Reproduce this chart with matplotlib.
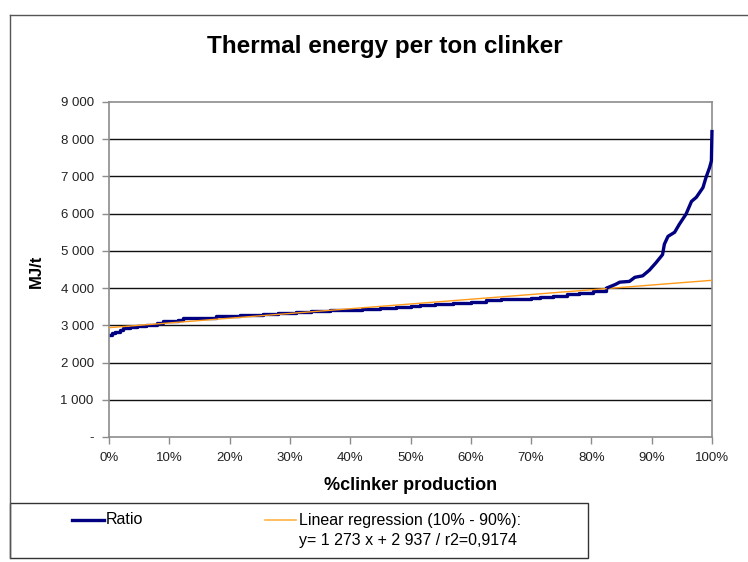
import matplotlib
matplotlib.use("Agg")
import matplotlib.pyplot as plt
from matplotlib.lines import Line2D
from matplotlib.patches import Rectangle
from matplotlib.ticker import FuncFormatter

plt.rcParams['font.family'] = ['Liberation Sans', 'DejaVu Sans']

# Ranked plants: cumulative % of clinker production vs thermal energy (MJ/t)
pct = [0, 0.5, 1, 1.8, 2.4, 3.5, 4.6, 6.2, 7.9, 9.0, 11.5, 12.3, 15.6, 17.8, 20, 21.7,
       23.5, 25.6, 28, 31, 33.5, 36.6, 39, 42, 45, 47.6, 50, 51.5, 54, 57, 60, 62.6,
       65, 68, 70, 71.4, 73.6, 76, 78, 80.3, 82.5, 84, 84.7, 86.3, 87.2, 88.5, 89.6,
       90.7, 91.8, 92.1, 92.7, 93.8, 94.6, 95.7, 96.6, 97.4, 98.5, 99.0, 99.6, 99.9, 100]
ratio = [2740, 2790, 2830, 2870, 2940, 2950, 2970, 3020, 3050, 3120, 3150, 3190, 3210,
         3240, 3250, 3270, 3285, 3305, 3330, 3360, 3380, 3410, 3420, 3440, 3460, 3490,
         3520, 3540, 3570, 3600, 3640, 3670, 3700, 3720, 3740, 3770, 3800, 3840, 3880,
         3920, 4000, 4100, 4160, 4180, 4290, 4330, 4480, 4680, 4900, 5180, 5390, 5500,
         5720, 5990, 6330, 6440, 6700, 6970, 7240, 7420, 8250]

reg_x = [0, 100]
reg_slope = 1273
reg_intercept = 2937
reg_y = [reg_intercept + reg_slope * x / 100 for x in reg_x]

yticks = [0, 1000, 2000, 3000, 4000, 5000, 6000, 7000, 8000, 9000]
xticks = [0, 10, 20, 30, 40, 50, 60, 70, 80, 90, 100]

W, H = 748, 562
fig = plt.figure(figsize=(W / 100, H / 100), dpi=100)

def fx(px):
    return px / W

def fy(py):
    return 1 - py / H

ax = fig.add_axes([fx(109), fy(437), fx(712) - fx(109), fy(102) - fy(437)])

ax.plot(reg_x, reg_y, color='#FF9A1A', lw=1.0, zorder=3)
split = 40  # flat part drawn as a staircase, steep tail as a jagged line
ax.plot(pct[:split + 1], ratio[:split + 1], color='#000080', lw=2.4,
        drawstyle='steps-post', zorder=2)
ax.plot(pct[split:], ratio[split:], color='#000080', lw=2.4, zorder=4,
        clip_on=False, solid_capstyle='butt')

ax.set_xlim(0, 100)
ax.set_ylim(0, 9000)
ax.set_yticks(yticks)
ax.set_xticks(xticks)
ax.yaxis.set_major_formatter(FuncFormatter(
    lambda v, p: '-' if v == 0 else f"{int(v):,}".replace(',', ' ')))
ax.xaxis.set_major_formatter(FuncFormatter(lambda v, p: f"{int(v)}%"))

for v in yticks[1:-1]:
    ax.axhline(v, color='#111111', lw=1.0, zorder=1)

for s in ax.spines.values():
    s.set_color('#8c8c8c')
    s.set_linewidth(1.2)

ax.tick_params(axis='both', direction='out', length=5, width=1, color='#8c8c8c',
               labelsize=9.5, labelcolor='#222222')
ax.tick_params(axis='y', pad=6)
ax.tick_params(axis='x', pad=6)

fig.text(fx(385), fy(47), 'Thermal energy per ton clinker', ha='center', va='center',
         fontsize=17.5, fontweight='bold', color='#000000')
fig.text(fx(411), fy(486), '%clinker production', ha='center', va='center',
         fontsize=13, fontweight='bold', color='#000000')
fig.text(fx(36), fy(271), 'MJ/t', ha='center', va='center', rotation=90,
         fontsize=12, fontweight='bold', color='#000000')

# outer chart frame (left and top edges visible)
fig.add_artist(Line2D([fx(10), fx(10)], [fy(15), fy(558)], color='#555555', lw=1.0))
fig.add_artist(Line2D([fx(10), fx(748)], [fy(15), fy(15)], color='#555555', lw=1.0))

# legend box
fig.add_artist(Rectangle((fx(10), fy(558)), fx(588) - fx(10), fy(503) - fy(558),
                         fill=False, edgecolor='#333333', lw=1.0))
fig.add_artist(Line2D([fx(72), fx(104)], [fy(520), fy(520)], color='#000080', lw=2.4))
fig.text(fx(106), fy(520), 'Ratio', ha='left', va='center', fontsize=11.5)
fig.add_artist(Line2D([fx(265), fx(296)], [fy(520), fy(520)], color='#FFB347', lw=1.2))
fig.text(fx(299), fy(520), 'Linear regression (10% - 90%):', ha='left', va='center',
         fontsize=11.5)
fig.text(fx(299), fy(541), 'y= 1 273 x + 2 937 / r2=0,9174', ha='left', va='center',
         fontsize=11.5)

fig.savefig('out.png', dpi=100)
